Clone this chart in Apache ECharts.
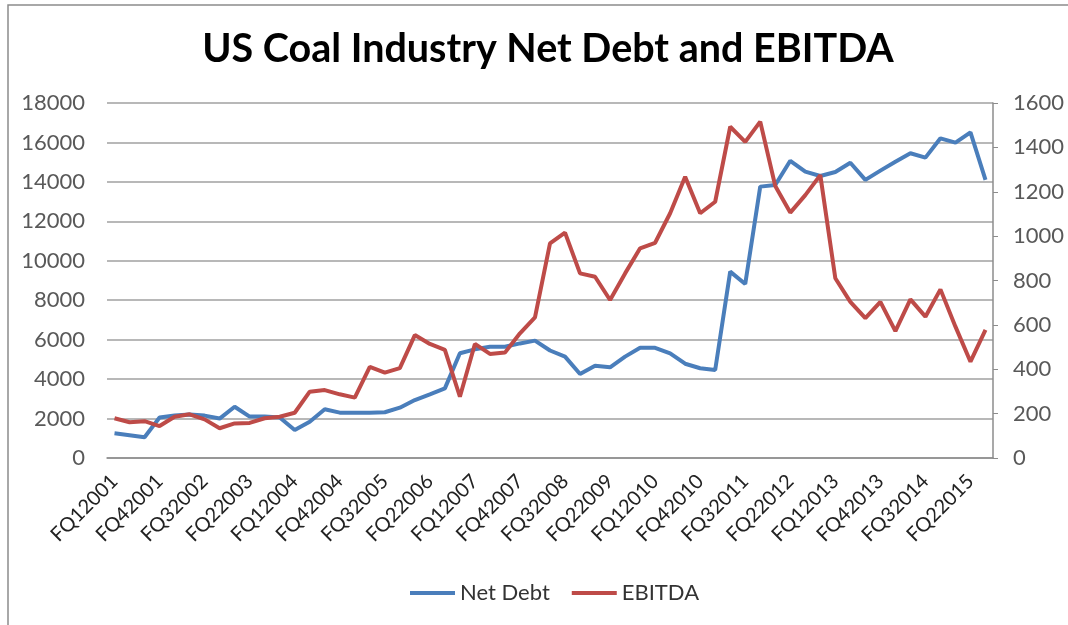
<!DOCTYPE html>
<html>
<head>
<meta charset="utf-8">
<title>US Coal Industry Net Debt and EBITDA</title>
<script src="https://cdn.jsdelivr.net/npm/echarts@6/dist/echarts.min.js"></script>
<style>
    html, body { margin: 0; padding: 0; background: #fff; }
    #chart { width: 1068px; height: 625px; }
</style>
</head>
<body>
<div id="chart"></div>
<script>
    // quarters FQ12001 .. FQ32015
    var quarters = [];
    for (var yr = 2001; yr <= 2015; yr++) {
        for (var q = 1; q <= 4; q++) {
            if (yr === 2015 && q > 3) break;
            quarters.push('FQ' + q + yr);
        }
    }

    var netDebt = [1250, 1150, 1050, 2050, 2150, 2200, 2150, 2000, 2600, 2100,
        2100, 2050, 1420, 1840, 2470, 2300, 2300, 2300, 2320, 2550,
        2940, 3230, 3530, 5310, 5510, 5640, 5640, 5810, 5950, 5450,
        5140, 4260, 4680, 4600, 5140, 5590, 5590, 5310, 4780, 4550,
        4460, 9450, 8820, 13760, 13840, 15070, 14520, 14300, 14500, 14970,
        14100, 14570, 15020, 15450, 15230, 16210, 15990, 16510, 14100];

    var ebitda = [179, 161, 166, 144, 186, 197, 174, 134, 156, 158,
        179, 186, 204, 299, 306, 287, 272, 411, 385, 405,
        554, 514, 487, 276, 514, 469, 475, 562, 634, 967,
        1016, 832, 817, 712, 832, 945, 970, 1103, 1268, 1103,
        1155, 1493, 1425, 1516, 1226, 1106, 1185, 1275, 810, 704,
        630, 704, 572, 715, 637, 760, 592, 434, 577];

    var chart = echarts.init(document.getElementById('chart'));

    var plain = function (v) { return String(v); };

    var option = {
        backgroundColor: '#fff',
        textStyle: { fontFamily: 'Lato' },
        title: {
            text: 'US Coal Industry Net Debt and EBITDA',
            left: 543,
            textAlign: 'center',
            top: 24,
            textStyle: { fontFamily: 'Lato', fontSize: 39.5, fontWeight: 'bold', color: '#000' }
        },
        legend: {
            bottom: 16,
            left: 405,
            icon: 'rect',
            itemWidth: 45,
            itemHeight: 4,
            itemGap: 22,
            textStyle: { fontSize: 22, color: '#333' },
            data: ['Net Debt', 'EBITDA']
        },
        grid: { left: 107, right: 75, top: 103, bottom: 167 },
        xAxis: {
            type: 'category',
            data: quarters,
            boundaryGap: true,
            axisLine: { lineStyle: { color: '#8c8c8c', width: 1.5 } },
            axisTick: { show: false },
            axisLabel: {
                interval: 2,
                rotate: 45,
                margin: 20,
                fontSize: 20,
                color: '#222'
            }
        },
        yAxis: [
            {
                type: 'value',
                min: 0,
                max: 18000,
                interval: 2000,
                axisLine: { show: false },
                axisTick: { show: false },
                axisLabel: { margin: 22, fontSize: 22, color: '#595959', formatter: plain },
                splitLine: { lineStyle: { color: '#a0a0a0', width: 1.5 } }
            },
            {
                type: 'value',
                min: 0,
                max: 1600,
                interval: 200,
                position: 'right',
                axisLine: { show: true, lineStyle: { color: '#8c8c8c', width: 1.5 } },
                axisTick: { show: true, length: 5, lineStyle: { color: '#8c8c8c' } },
                axisLabel: { margin: 20, fontSize: 22, color: '#595959', formatter: plain },
                splitLine: { show: false }
            }
        ],
        series: [
            {
                name: 'Net Debt',
                type: 'line',
                data: netDebt,
                yAxisIndex: 0,
                symbol: 'none',
                color: '#4a7ebb',
                lineStyle: { width: 4, color: '#4a7ebb' }
            },
            {
                name: 'EBITDA',
                type: 'line',
                data: ebitda,
                yAxisIndex: 1,
                symbol: 'none',
                color: '#be4b48',
                lineStyle: { width: 4, color: '#be4b48' }
            }
        ],
        graphic: [
            {
                type: 'rect',
                shape: { x: 8, y: 5, width: 1100, height: 700 },
                style: { fill: null, stroke: '#8c8c8c', lineWidth: 1.5 },
                silent: true
            }
        ]
    };

    chart.setOption(option);
</script>
</body>
</html>
